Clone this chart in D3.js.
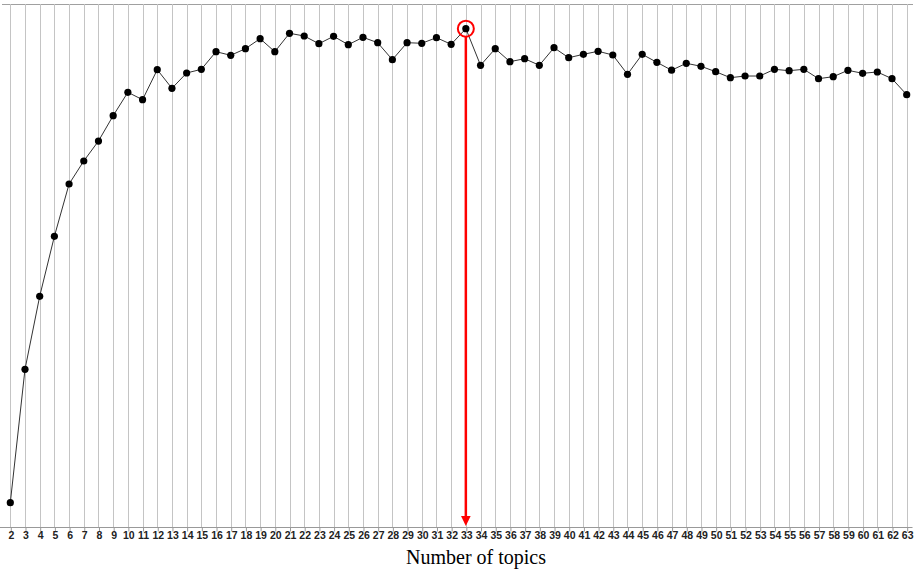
<!DOCTYPE html>
<html>
<head>
<meta charset="utf-8">
<script src="https://cdn.jsdelivr.net/npm/d3@7"></script>
<style>
  html, body { margin: 0; padding: 0; background: #fff; }
  svg { display: block; }
</style>
</head>
<body>
<svg id="chart" width="915" height="570"></svg>
<script>
// Number of topics (categories)
const topics = d3.range(2, 64);
// Score per number of topics (relative units)
const scores = [
  0.0465, 0.3015, 0.4411, 0.5558, 0.6558, 0.6998, 0.7380, 0.7864, 0.8312, 0.8170,
  0.8744, 0.8388, 0.8681, 0.8751, 0.9088, 0.9019, 0.9145, 0.9337, 0.9088, 0.9440,
  0.9388, 0.9241, 0.9382, 0.9222, 0.9363, 0.9260, 0.8935, 0.9260, 0.9249, 0.9356,
  0.9229, 0.9528, 0.8828, 0.9145, 0.8897, 0.8954, 0.8828, 0.9164, 0.8973, 0.9038,
  0.9096, 0.9025, 0.8656, 0.9038, 0.8885, 0.8734, 0.8866, 0.8809, 0.8706, 0.8591,
  0.8623, 0.8623, 0.8751, 0.8725, 0.8751, 0.8572, 0.8610, 0.8732, 0.8675, 0.8700,
  0.8572, 0.8266
];
const tickLabels = topics.map(String);
const bestTopic = 33;
const xTitle = "Number of topics";

(function () {
const data = topics.map((t, i) => ({ t, v: scores[i] }));

const svg = d3.select("#chart");
const yTop = 4, yBottom = 527;
const x = d3.scalePoint().domain(topics).range([10.3, 906.7]);
const y = d3.scaleLinear().domain([0, 1]).range([yBottom, yTop]);

// top border
svg.append("line").attr("x1", 2).attr("x2", 913).attr("y1", yTop + 0.5).attr("y2", yTop + 0.5)
  .attr("stroke", "#a0a0a0").attr("stroke-width", 1);

// vertical gridlines
svg.append("g").selectAll("line").data(topics).join("line")
  .attr("x1", d => Math.round(x(d)) + 0.5).attr("x2", d => Math.round(x(d)) + 0.5)
  .attr("y1", yTop).attr("y2", yBottom)
  .attr("stroke", "#c4c4c4").attr("stroke-width", 1);

// x axis
const axis = d3.axisBottom(x).tickFormat((d, i) => tickLabels[i]).tickSize(4).tickSizeOuter(0);
const gx = svg.append("g").attr("transform", `translate(0.5,${yBottom + 0.5})`).call(axis);
gx.select(".domain").attr("stroke", "#999").attr("d", `M-5,0H912`);
gx.selectAll(".tick line").attr("stroke", "#999");
gx.selectAll(".tick text").attr("fill", "#222").attr("font-family", "Liberation Sans, Arial, sans-serif")
  .attr("font-size", 10.5).attr("font-weight", "bold").attr("dy", "0.6em").attr("y", 5);

// line
svg.append("path").datum(data)
  .attr("fill", "none").attr("stroke", "#333").attr("stroke-width", 1)
  .attr("d", d3.line().x(d => x(d.t)).y(d => y(d.v)));

// points
svg.append("g").selectAll("circle").data(data).join("circle")
  .attr("cx", d => x(d.t)).attr("cy", d => y(d.v)).attr("r", 3.6).attr("fill", "#000");

// highlight best
const best = data.find(d => d.t === bestTopic);
const bx = x(best.t), by = y(best.v);
svg.append("circle").attr("cx", bx).attr("cy", by).attr("r", 8)
  .attr("fill", "none").attr("stroke", "#f00").attr("stroke-width", 2);
svg.append("line").attr("x1", bx).attr("x2", bx).attr("y1", by + 8).attr("y2", yBottom - 8)
  .attr("stroke", "#f00").attr("stroke-width", 2.5);
svg.append("path")
  .attr("d", `M${bx - 4.8},${yBottom - 11}L${bx + 4.8},${yBottom - 11}L${bx},${yBottom - 1}Z`)
  .attr("fill", "#f00");

// axis title
svg.append("text").attr("x", 476).attr("y", 564).attr("text-anchor", "middle")
  .attr("font-family", "Liberation Serif, 'Times New Roman', serif").attr("font-size", 20)
  .attr("fill", "#000").text(xTitle);
})();
</script>
</body>
</html>
